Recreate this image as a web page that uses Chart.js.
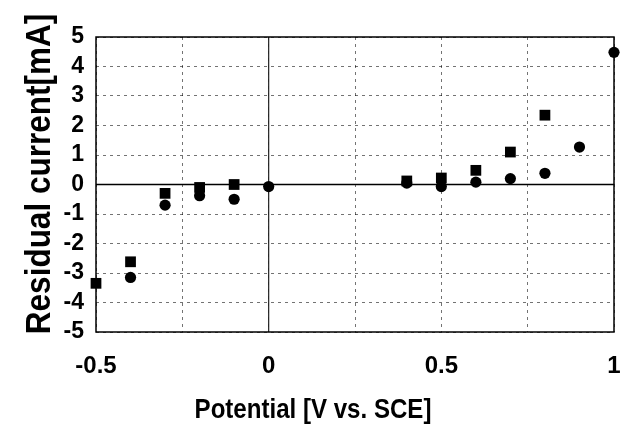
<!DOCTYPE html>
<html>
<head>
<meta charset="utf-8">
<script src="https://cdn.jsdelivr.net/npm/chart.js@4/dist/chart.umd.min.js"></script>
<style>
  html, body { margin: 0; padding: 0; background: #fff; }
  #wrap { width: 625px; height: 428px; }
</style>
</head>
<body>
<div id="wrap"><canvas id="c" width="625" height="428"></canvas></div>
<script>
// Potential sweep points (V vs. SCE) and measured residual current (mA)
const squarePotential = [-0.5, -0.4, -0.3, -0.2, -0.1, 0.4, 0.5, 0.6, 0.7, 0.8];
const squareCurrent   = [-3.35, -2.62, -0.3, -0.1, 0.0, 0.12, 0.22, 0.48, 1.1, 2.35];
const circlePotential = [-0.4, -0.3, -0.2, -0.1, 0.0, 0.4, 0.5, 0.6, 0.7, 0.8, 0.9, 1.0];
const circleCurrent   = [-3.15, -0.7, -0.38, -0.5, -0.07, 0.05, -0.07, 0.08, 0.2, 0.38, 1.27, 4.48];

const xTitle = 'Potential [V vs. SCE]';
const yTitle = 'Residual current[mA]';
const FONT = '"Liberation Sans", Arial, sans-serif';

const toPoints = (xs, ys) => xs.map((x, i) => ({ x: x, y: ys[i] }));

// Frame, zero lines and (slightly condensed) axis titles
const frame = {
  id: 'frame',
  beforeDatasetsDraw(chart) {
    const { ctx, chartArea: a, scales } = chart;
    ctx.save();
    ctx.strokeStyle = '#000';
    ctx.lineWidth = 1.5;
    const y0 = scales.y.getPixelForValue(0);
    ctx.beginPath(); ctx.moveTo(a.left, y0); ctx.lineTo(a.right, y0); ctx.stroke();
    ctx.lineWidth = 1.2;
    ctx.strokeStyle = '#222';
    const x0 = scales.x.getPixelForValue(0);
    ctx.beginPath(); ctx.moveTo(x0, a.top); ctx.lineTo(x0, a.bottom); ctx.stroke();
    ctx.lineWidth = 1.5;
    ctx.strokeStyle = '#000';
    ctx.strokeRect(a.left, a.top, a.right - a.left, a.bottom - a.top);
    ctx.restore();
  },
  afterDraw(chart) {
    const { ctx } = chart;
    ctx.save();
    ctx.fillStyle = '#000';
    ctx.textAlign = 'center';
    ctx.textBaseline = 'alphabetic';
    ctx.font = 'bold 28px ' + FONT;
    ctx.translate(313, 418);
    ctx.scale(0.86, 1);
    ctx.fillText(xTitle, 0, 0);
    ctx.restore();

    ctx.save();
    ctx.fillStyle = '#000';
    ctx.textAlign = 'center';
    ctx.textBaseline = 'alphabetic';
    ctx.font = 'bold 35px ' + FONT;
    ctx.translate(50, 174);
    ctx.rotate(-Math.PI / 2);
    ctx.scale(0.9, 1);
    ctx.fillText(yTitle, 0, 0);
    ctx.restore();
  }
};

new Chart(document.getElementById('c'), {
  type: 'scatter',
  data: {
    datasets: [
      {
        label: 'squares',
        data: toPoints(squarePotential, squareCurrent),
        pointStyle: 'rect',
        pointRadius: 7.6,
        backgroundColor: '#000',
        borderColor: '#000',
        borderWidth: 0,
        clip: false
      },
      {
        label: 'circles',
        data: toPoints(circlePotential, circleCurrent),
        pointStyle: 'circle',
        pointRadius: 5.6,
        backgroundColor: '#000',
        borderColor: '#000',
        borderWidth: 0,
        clip: false
      }
    ]
  },
  options: {
    responsive: false,
    animation: false,
    layout: { padding: { top: 37, right: 11, left: 0, bottom: 0 } },
    plugins: { legend: { display: false }, tooltip: { enabled: false } },
    scales: {
      x: {
        type: 'linear',
        min: -0.5, max: 1,
        afterFit(scale) {
          scale.height = 96;
          scale.paddingLeft = 0;
          scale.paddingRight = 0;
        },
        grid: { color: 'rgba(0,0,0,0.55)', lineWidth: 1, drawTicks: false },
        border: { display: false, dash: [3, 4] },
        ticks: {
          stepSize: 0.25,
          autoSkip: false,
          padding: 20,
          color: '#000',
          font: { family: FONT, size: 24, weight: 'bold' },
          maxRotation: 0,
          callback(v) {
            const twice = v * 2;
            return Math.abs(twice - Math.round(twice)) < 1e-9 ? String(Math.round(v * 10) / 10) : '';
          }
        }
      },
      y: {
        min: -5, max: 5,
        afterFit(scale) {
          scale.width = 96;
          scale.paddingTop = 0;
          scale.paddingBottom = 0;
        },
        grid: { color: 'rgba(0,0,0,0.55)', lineWidth: 1, drawTicks: false },
        border: { display: false, dash: [3, 4] },
        ticks: {
          stepSize: 1,
          autoSkip: false,
          padding: 12,
          color: '#000',
          font: { family: FONT, size: 23, weight: 'bold' }
        }
      }
    }
  },
  plugins: [frame]
});
</script>
</body>
</html>
